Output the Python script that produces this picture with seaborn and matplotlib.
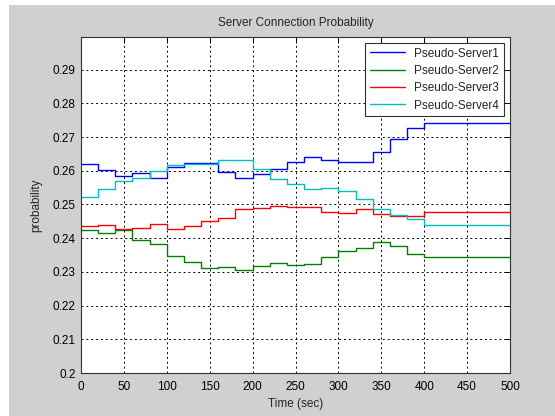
import numpy as np
import pandas as pd
import seaborn as sns
import matplotlib.pyplot as plt
from matplotlib.patches import Rectangle

sns.set_style("white")
plt.rcParams["font.family"] = ["Liberation Sans", "DejaVu Sans"]
plt.rcParams["font.size"] = 8

# step times (sec); last point closes the final step at 500 s
time_sec = [0, 20, 40, 60, 80, 100, 120, 140, 160, 180, 200,
            220, 240, 260, 280, 300, 320, 340, 360, 380, 400, 500]

server1 = [0.2620, 0.2602, 0.2584, 0.2592, 0.2578, 0.2612, 0.2622, 0.2622,
           0.2597, 0.2578, 0.2590, 0.2606, 0.2626, 0.2641, 0.2631, 0.2626,
           0.2626, 0.2656, 0.2695, 0.2727, 0.2743, 0.2743]
server2 = [0.2423, 0.2414, 0.2423, 0.2396, 0.2382, 0.2346, 0.2330, 0.2312,
           0.2315, 0.2306, 0.2318, 0.2326, 0.2319, 0.2323, 0.2343, 0.2363,
           0.2370, 0.2388, 0.2377, 0.2353, 0.2344, 0.2344]
server3 = [0.2437, 0.2440, 0.2426, 0.2431, 0.2441, 0.2426, 0.2435, 0.2452,
           0.2460, 0.2487, 0.2490, 0.2497, 0.2494, 0.2494, 0.2478, 0.2475,
           0.2487, 0.2473, 0.2466, 0.2467, 0.2478, 0.2478]
server4 = [0.2523, 0.2547, 0.2569, 0.2579, 0.2599, 0.2617, 0.2619, 0.2619,
           0.2632, 0.2632, 0.2604, 0.2576, 0.2561, 0.2547, 0.2549, 0.2539,
           0.2516, 0.2487, 0.2468, 0.2458, 0.2440, 0.2440]

names = ["Pseudo-Server1", "Pseudo-Server2", "Pseudo-Server3", "Pseudo-Server4"]
colors = ["#0000ff", "#008000", "#ff0000", "#00bfbf"]

frames = []
for name, vals in zip(names, [server1, server2, server3, server4]):
    frames.append(pd.DataFrame({"time": time_sec, "prob": vals, "server": name}))
df = pd.concat(frames, ignore_index=True)

BG = "#d0d0d0"

fig = plt.figure(figsize=(5.55, 4.16), dpi=100, facecolor="white")
# matlab-ish grey figure area with a thin white margin top/left
fig.patches.append(Rectangle((9 / 555, 0), 1, 1 - 5 / 416,
                             transform=fig.transFigure, facecolor=BG,
                             edgecolor="none", zorder=-10))
ax = fig.add_axes([81 / 555, 1 - 373 / 416, (510 - 81) / 555, (373 - 37) / 416])
ax.set_facecolor("white")

sns.lineplot(data=df, x="time", y="prob", hue="server",
             palette=dict(zip(names, colors)), estimator=None,
             drawstyle="steps-post", linewidth=1, legend=False, ax=ax)

ax.set_xlim(0, 500)
ax.set_ylim(0.2, 0.2997)
ax.set_xticks(np.arange(0, 501, 50))
ax.set_yticks(np.round(np.arange(0.20, 0.295, 0.01), 2))
ax.set_yticklabels(["0.2"] + [f"{v:.2f}" for v in np.arange(0.21, 0.295, 0.01)])

ax.grid(True, color="black", linestyle=(0, (2, 3)), linewidth=0.7)
ax.tick_params(direction="in", length=4, width=0.7, top=True, right=True,
               labelsize=8.5, colors="black")
ax.tick_params(axis="x", pad=6)
ax.tick_params(axis="y", pad=4)
for s in ax.spines.values():
    s.set_color("#333333")
    s.set_linewidth(0.8)

ax.set_title("Server Connection Probability", fontsize=8.5, pad=8)
ax.set_xlabel("Time (sec)", fontsize=8.5, labelpad=3)
ax.set_ylabel("probability", fontsize=8.5, labelpad=7)

handles = [plt.Line2D([0], [0], color=c, lw=1) for c in colors]
leg = ax.legend(handles, names, loc="upper right", fontsize=8.5,
                frameon=True, fancybox=False, framealpha=1,
                edgecolor="#333333", handlelength=3.0, labelspacing=0.45,
                borderaxespad=0.5, borderpad=0.4)
leg.get_frame().set_linewidth(0.8)

plt.savefig("out.png", dpi=100, facecolor=fig.get_facecolor())
plt.close()
